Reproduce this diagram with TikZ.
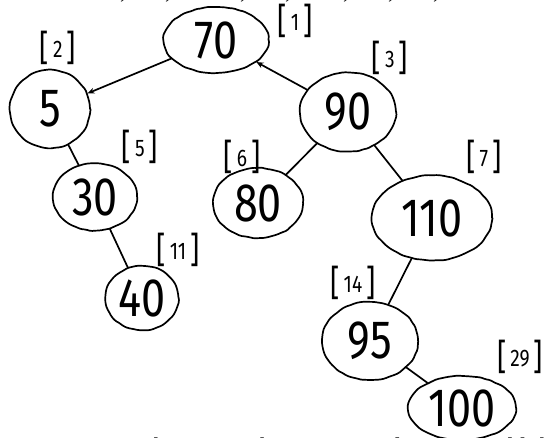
\documentclass[tikz,border=0pt]{standalone}
\usepackage{fontspec}
\setmainfont{Liberation Serif}
\newfontfamily\hand{Fira Sans}[FakeStretch=0.8]
\usetikzlibrary{shapes.geometric, arrows.meta, decorations.pathmorphing}

% an array index written as a bracketed number
\newcommand\slot[1]{{\fontsize{36}{36}\selectfont[}\,\raisebox{3pt}{#1}\,{\fontsize{36}{36}\selectfont]}}

\begin{document}
\begin{tikzpicture}[x=1pt, y=-1pt,
  ink/.style={line width=1.7pt, black, line cap=round, line join=round},
  ring/.style={ink, draw, ellipse, inner sep=0pt,
    decorate, decoration={random steps, segment length=5pt, amplitude=0.5pt},
    rounded corners=1.5pt,
    font=\hand\fontsize{54}{54}\selectfont},
  tag/.style={inner sep=0pt, font=\hand\fontsize{24}{24}\selectfont},
  link/.style={ink},
  tip/.style={-{Stealth[length=7pt, width=6pt]}},
  print/.style={inner sep=0pt, anchor=base west, font=\fontsize{24}{24}\selectfont}]

\useasboundingbox (0,0) rectangle (555,438);
\fill[white] (0,0) rectangle (555,438);

% tree nodes
\node[ring, minimum width=105, minimum height=66] (n70)  at (216,40)  {70};
\node[ring, minimum width=80,  minimum height=78] (n5)   at (50,109)  {5};
\node[ring, minimum width=96,  minimum height=79] (n90)  at (348,112) {90};
\node[ring, minimum width=84,  minimum height=67] (n30)  at (95,197)  {30};
\node[ring, minimum width=90,  minimum height=70] (n80)  at (258,203) {80};
\node[ring, minimum width=120, minimum height=85] (n110) at (432,218) {110};
\node[ring, minimum width=73,  minimum height=64] (n40)  at (142,298) {40};
\node[ring, minimum width=96,  minimum height=78] (n95)  at (370,341) {95};
\node[ring, minimum width=108, minimum height=64] (n100) at (462,408) {100};

% array index tags
\node[tag] (t1)  at (295,21)  {\slot{1}};
\node[tag] (t2)  at (58,48)   {\slot{2}};
\node[tag] (t3)  at (390,58)  {\slot{3}};
\node[tag] (t5)  at (140,147) {\slot{5}};
\node[tag] (t6)  at (242,157) {\slot{6}};
\node[tag] (t7)  at (484,157) {\slot{7}};
\node[tag] (t11) at (178,250) {\slot{11}};
\node[tag] (t14) at (353,283) {\slot{14}};
\node[tag] (t29) at (520,357) {\slot{29}};

% edges
\draw[link, tip] (n70) -- (n5);
\draw[link, tip] (n90) -- (n70);
\draw[link] (n5) -- (n30);
\draw[link] (n30) -- (n40);
\draw[link] (n90) -- (n80);
\draw[link] (n90) -- (n110);
\draw[link] (n110) -- (n95);
\draw[link] (n95) -- (n100);

% printed lines cut by the page edges
\begin{scope}
  \clip (0,0) rectangle (555,438);
  \foreach \cx [count=\i] in {120,165,240,285,343,388,433}
    \node[print] (c\i) at (\cx,-1) {,};
  \node[print] (w1) at (36,455)  {ut};
  \node[print] (w2) at (66,455)  {store};
  \node[print] (w3) at (126,455) {a};
  \node[print] (w4) at (154,455) {binary};
  \node[print] (w5) at (230,455) {at the};
  \node[print] (w6) at (314,455) {root};
  \node[print] (w7) at (366,455) {and};
  \node[print] (w8) at (466,455) {would};
  \node[print] (w9) at (540,455) {be};
\end{scope}
\end{tikzpicture}
\end{document}
